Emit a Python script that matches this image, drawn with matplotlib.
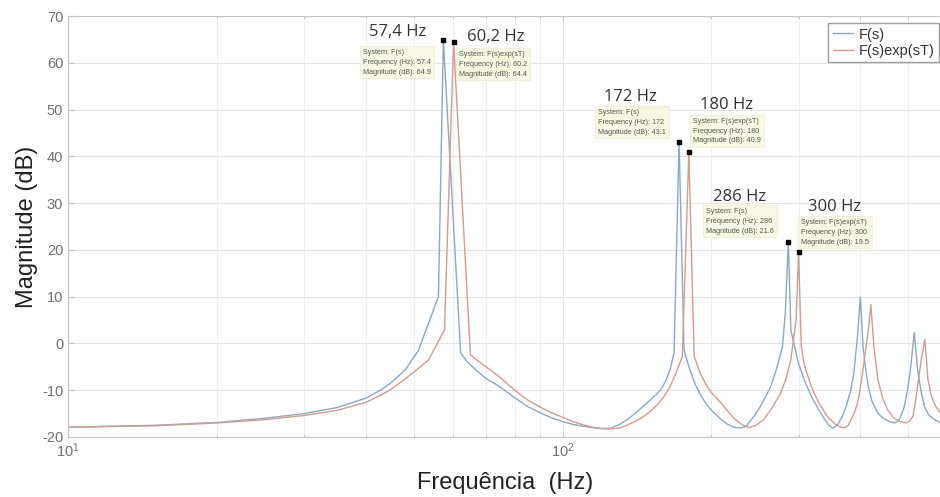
import matplotlib
matplotlib.use("Agg")
import matplotlib.pyplot as plt
from matplotlib.ticker import LogLocator, NullFormatter

plt.rcParams["axes.unicode_minus"] = False

# magnitude, F(s)
freq_fs = [10, 15, 20, 25, 30, 35, 40, 43, 45, 48.1, 51.1, 56.1, 57.4, 62.2,
           64, 67, 70, 75, 80, 85, 90, 95, 100, 105, 110, 115, 120, 125, 130,
           135, 140, 145, 150, 155, 158, 162, 165, 168, 172,
           176, 180, 185, 190, 195, 200, 209, 215, 222, 229, 235, 243.7, 250,
           257, 263.6, 270, 275, 278.3, 282, 286,
           289.4, 299.6, 310, 320, 332.6, 340, 346, 352, 360, 368, 375, 382,
           388, 394.6, 400,
           405, 410, 415, 422, 434, 445, 460, 470, 478, 485, 490.8, 498, 505, 514,
           522, 530, 539, 550, 565, 582]
mag_fs = [-17.9, -17.5, -16.9, -16.0, -15.0, -13.7, -11.7, -9.9, -8.4, -5.6, -1.5, 10.0, 64.9, -2.0,
          -3.8, -5.8, -7.5, -9.4, -11.6, -13.5, -14.8, -15.9, -16.7, -17.3, -17.7, -18.0, -18.2, -18.1, -17.4,
          -16.3, -15.0, -13.6, -12.2, -10.8, -9.9, -7.8, -5.5, -2.0, 43.1,
          -1.4, -5.0, -8.5, -11.0, -12.9, -14.3, -16.2, -17.2, -17.9, -18.1, -17.7, -15.6, -13.8,
          -11.5, -9.2, -5.8, -2.8, -0.7, 6.5, 21.6,
          2.9, -4.2, -8.5, -11.8, -14.9, -16.5, -17.6, -18.1, -17.4, -15.5, -13.2, -10.2,
          -6.4, 1.5, 9.9,
          -0.7, -5.5, -9.2, -12.3, -14.9, -16.0, -16.8, -17.0, -16.5, -15.0, -13.5, -10.0, -5.6, 2.3,
          -5.6, -10.0, -13.5, -15.3, -16.3, -17.0]

# magnitude, F(s)exp(sT)
freq_fe = [10, 15, 20, 25, 30, 35, 40, 43, 45, 48, 51, 53.6, 57.7, 60.2,
           65.1, 67, 70, 72.4, 75, 80, 85, 90, 95, 100, 105, 110, 115, 120, 125,
           130, 135, 140, 145, 150, 155, 160, 165, 170, 174.6, 180,
           184.5, 190, 195, 200, 209, 215, 222, 230, 238, 245, 255, 265, 276,
           283, 289.4, 296.5, 300,
           303.8, 308, 313.4, 320, 330, 343, 355, 365, 372, 378, 385, 390, 394.6,
           400, 406.5, 415, 420,
           426, 434, 444, 454, 468, 482, 495, 503, 510.6, 516, 522, 531, 540,
           548, 556, 565, 574, 582]
mag_fe = [-17.9, -17.6, -17.0, -16.3, -15.4, -14.3, -12.6, -11.0, -9.8, -7.6, -5.4, -3.5, 2.9, 64.4,
          -2.4, -3.5, -5.0, -6.1, -7.4, -10.0, -12.1, -13.6, -14.8, -15.8, -16.7, -17.4, -17.9, -18.2, -18.3,
          -18.1, -17.5, -16.7, -15.8, -14.6, -13.2, -11.5, -9.2, -6.0, -2.8, 40.9,
          -2.8, -6.5, -8.8, -10.5, -12.7, -14.3, -16.0, -17.3, -18.0, -17.6, -16.3, -13.8, -10.6,
          -7.5, -3.5, 5.0, 19.5,
          -0.7, -4.5, -7.1, -9.8, -12.8, -15.6, -17.2, -17.9, -18.0, -17.5, -15.8, -14.4, -12.8,
          -9.5, -4.2, 2.9, 8.3,
          -0.7, -7.8, -11.8, -14.2, -16.0, -16.7, -17.0, -16.6, -15.6, -13.0, -9.2, -3.5, 0.9,
          -7.8, -11.0, -13.0, -14.2, -15.0]

# data tips
tip_sys = ["F(s)", "F(s)exp(sT)", "F(s)", "F(s)exp(sT)", "F(s)", "F(s)exp(sT)"]
tip_freq = [57.4, 60.2, 172, 180, 286, 300]
tip_mag = [64.9, 64.4, 43.1, 40.9, 21.6, 19.5]
tip_freq_txt = ["57.4", "60.2", "172", "180", "286", "300"]
tip_title = ["57,4 Hz", "60,2 Hz", "172 Hz", "180 Hz", "286 Hz", "300 Hz"]
# pixel positions: left/top of tip box, centre of title
tip_box = [(363, 49), (459, 51), (598, 109), (693, 118), (706, 208), (801, 219)]
tip_head = [(398, 32), (496, 37), (630, 97), (726, 105), (740, 197), (835, 207)]

W, H = 940, 497
fig = plt.figure(figsize=(W / 100, H / 100), dpi=100)
ax = fig.add_axes([68 / W, (H - 437) / H, 1 - 68 / W + 0.001, (437 - 16) / H])

blue = "#88a9c6"
red = "#d29c8e"
ax.plot(freq_fs, mag_fs, color=blue, lw=1.0, label="F(s)")
ax.plot(freq_fe, mag_fe, color=red, lw=1.0, label="F(s)exp(sT)")

ax.set_xscale("log")
ax.set_xlim(10, 582)
ax.set_ylim(-20, 70)
ax.set_yticks(range(-20, 71, 10))
ax.xaxis.set_major_locator(LogLocator(base=10, numticks=5))
ax.xaxis.set_minor_locator(LogLocator(base=10, subs=range(2, 10), numticks=20))
ax.xaxis.set_minor_formatter(NullFormatter())

ax.grid(True, which="major", color="#e4e4e4", lw=0.8)
ax.grid(True, which="minor", axis="x", color="#efefef", lw=0.7)
ax.set_axisbelow(True)
for s in ["left", "bottom", "top"]:
    ax.spines[s].set_color("#c4c4c4")
ax.spines["right"].set_visible(False)
ax.tick_params(which="both", direction="in", top=True, colors="#c4c4c4",
               labelcolor="#707070", labelsize=10.5)
ax.tick_params(which="major", length=4)
ax.tick_params(which="minor", length=2.5)
for lab in ax.get_xticklabels() + ax.get_yticklabels():
    lab.set_family("Liberation Sans")

ax.set_ylabel("Magnitude (dB)", family="Liberation Sans", fontsize=17,
              color="#222222", labelpad=3)
ax.set_xlabel("Frequência  (Hz)", family="Liberation Sans", fontsize=17,
              color="#222222")
ax.xaxis.set_label_coords((505 - 68) / 872, -(472 - 437) / 421)

leg = ax.legend(loc="upper right", bbox_to_anchor=(0.998, 0.983), borderaxespad=0,
                fancybox=False, framealpha=1, edgecolor="#a0a0a0",
                prop={"family": "Liberation Sans", "size": 10.5},
                handlelength=1.4, handletextpad=0.4, borderpad=0.3, labelspacing=0.15)
for t in leg.get_texts():
    t.set_color("#333333")

# peak markers
ax.plot(tip_freq, tip_mag, ls="none", marker="s", ms=3.5, color="black", zorder=5)

# data tip boxes and big titles
for i in range(len(tip_freq)):
    bx, by = tip_box[i]
    lines = ["System: " + tip_sys[i],
             "Frequency (Hz): " + tip_freq_txt[i],
             "Magnitude (dB): " + "%.1f" % tip_mag[i]]
    fig.text(bx / W, 1 - by / H, "\n".join(lines), ha="left", va="top",
             fontsize=5.2, color="#555555", family="Liberation Sans", linespacing=1.55,
             bbox=dict(boxstyle="square,pad=0.4", fc="#f8f8e2", ec="#ecebd4", lw=0.5))
    hx, hy = tip_head[i]
    fig.text(hx / W, 1 - hy / H, tip_title[i], ha="center", va="center",
             fontsize=12, color="#333333", family="Open Sans")

fig.savefig("out.png", dpi=100)
